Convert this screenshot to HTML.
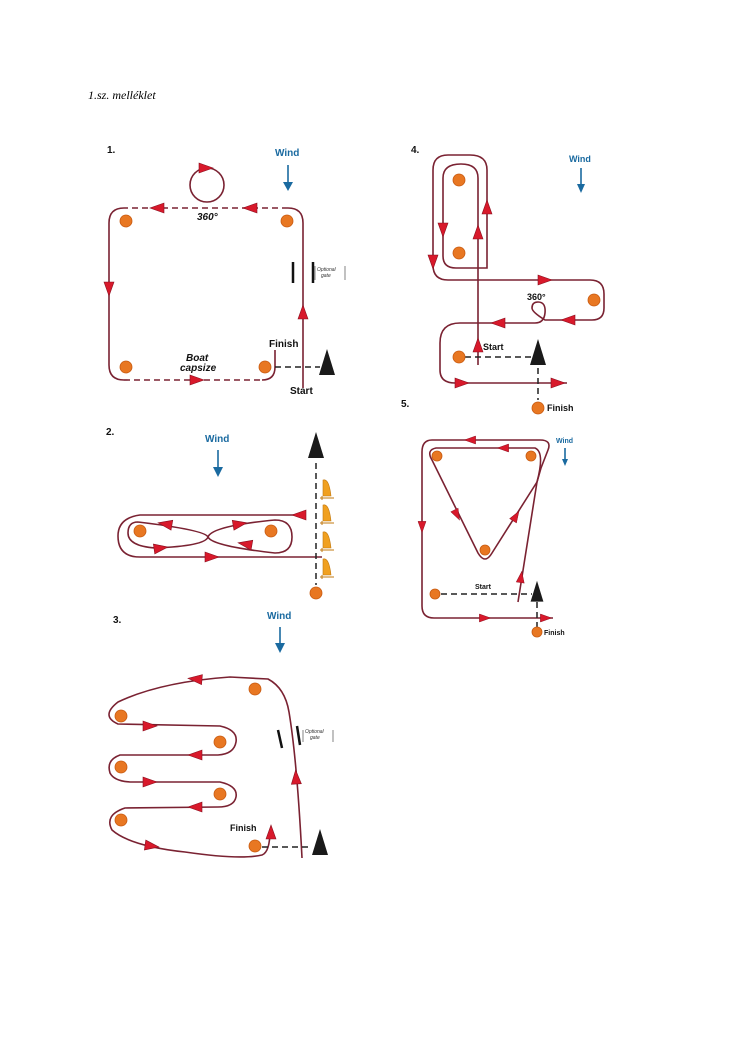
<!DOCTYPE html>
<html><head><meta charset="utf-8"><style>
html,body{margin:0;padding:0;background:#fff;width:740px;height:1047px;overflow:hidden}
svg{display:block}
text{font-family:"Liberation Sans",sans-serif}
</style></head><body>
<svg width="740" height="1047" viewBox="0 0 740 1047" xmlns="http://www.w3.org/2000/svg">
<defs>
<polygon id="a" points="-7,-5 7,0 -7,5" fill="#d8192b" stroke="#8a1020" stroke-width="0.6"/>
<polygon id="tri" points="0,-14 -8,12 8,12" fill="#1a1a1a"/>
<g id="boat"><path d="M-3,-10 Q3,-12 5,6 L-3,6 Z" fill="#f0a020" stroke="#c07810" stroke-width="0.6"/><path d="M-6,8 L8,8 M-4,6 L-4,10" stroke="#c07810" stroke-width="1"/></g>
</defs>
<text x="88" y="99" style="font-family:'Liberation Serif',serif;font-style:italic;font-size:12px">1.sz. melléklet</text>

<g fill="none" stroke="#7a2232" stroke-width="1.6">
<!-- Diagram 1 -->
<path d="M303,388 L303,223 Q303,208 288,208" />
<path d="M288,208 L124,208" stroke-dasharray="6,4"/>
<path d="M124,208 Q109,208 109,223 L109,365 Q109,380 124,380"/>
<path d="M124,380 L262,380" stroke-dasharray="6,4"/>
<path d="M262,380 Q275,380 275,367 L275,350"/>
<circle cx="207" cy="185" r="17"/>
<!-- Diagram 4 -->
<path d="M478,365 L478,178 Q478,164 461,164 Q443,164 443,178 L443,256 Q443,268 456,268 L487,268 L487,170 Q487,155 470,155 L448,155 Q433,155 433,170 L433,265 Q433,280 448,280 L590,280 Q604,280 604,294 L604,308 Q604,320 592,320 L545,320 Q532,312 532,308 Q532,302 538,302 Q546,302 545,313 Q544,323 535,323 L460,323 Q440,323 440,343 L440,370 Q440,383 455,383 L567,383"/>
<!-- Diagram 2 -->
<path d="M306,515 L140,515 Q118,518 118,536 Q118,557 140,557 L322,557"/>
<path d="M138,522 Q205,530 208,537 Q212,546 275,553 Q292,553 292,537 Q292,520 275,520 Q212,526 208,537 Q205,546 155,548 Q128,546 128,533 Q128,522 138,522"/>
<!-- Diagram 3 -->
<path d="M302,858 Q297,760 289,712 Q285,688 268,679 L230,677 Q160,682 118,702 Q100,716 118,724 L220,726 Q238,730 236,742 Q234,754 218,755 L120,755 Q106,760 110,773 Q114,781 130,782 L220,782 Q238,786 236,797 Q234,807 218,807 L125,808 Q104,815 112,830 Q130,846 185,852 Q240,860 262,855 Q270,852 270,830"/>
<!-- Diagram 5 -->
<path d="M518,602 L537,482 L541,468 L548,450 Q552,440 540,440 L432,440 Q422,440 422,452 L422,606 Q422,618 434,618 L553,618"/>
<path d="M537,482 Q545,452 535,448 L436,448 Q426,450 432,460 L478,553 Q485,565 492,553 L537,482"/>
</g>

<g stroke="#222" stroke-width="1.5" stroke-dasharray="6,4" fill="none">
<path d="M275,367 L320,367"/>
<path d="M465,357 L532,357 M538,368 L538,400"/>
<path d="M316,463 L316,585"/>
<path d="M262,847 L312,847"/>
<path d="M441,594 L532,594 M537,602 L537,627"/>
</g>

<g fill="#e87722" stroke="#c85a10" stroke-width="0.8">
<circle cx="126" cy="221" r="6"/><circle cx="287" cy="221" r="6"/><circle cx="126" cy="367" r="6"/><circle cx="265" cy="367" r="6"/>
<circle cx="459" cy="180" r="6"/><circle cx="459" cy="253" r="6"/><circle cx="594" cy="300" r="6"/><circle cx="459" cy="357" r="6"/><circle cx="538" cy="408" r="6"/>
<circle cx="140" cy="531" r="6"/><circle cx="271" cy="531" r="6"/><circle cx="316" cy="593" r="6"/>
<circle cx="255" cy="689" r="6"/><circle cx="121" cy="716" r="6"/><circle cx="220" cy="742" r="6"/><circle cx="121" cy="767" r="6"/><circle cx="220" cy="794" r="6"/><circle cx="121" cy="820" r="6"/><circle cx="255" cy="846" r="6"/>
<circle cx="437" cy="456" r="5"/><circle cx="531" cy="456" r="5"/><circle cx="485" cy="550" r="5"/><circle cx="435" cy="594" r="5"/><circle cx="537" cy="632" r="5"/>
</g>

<use href="#tri" transform="translate(327,363)"/>
<use href="#tri" transform="translate(538,353)"/>
<use href="#tri" transform="translate(316,446)"/>
<use href="#tri" transform="translate(320,843)"/>
<use href="#tri" transform="translate(537,592) scale(0.8)"/>
<use href="#boat" transform="translate(326,490)"/>
<use href="#boat" transform="translate(326,515)"/>
<use href="#boat" transform="translate(326,542)"/>
<use href="#boat" transform="translate(326,569)"/>

<use href="#a" transform="translate(206,168)"/>
<use href="#a" transform="translate(157,208) rotate(180)"/>
<use href="#a" transform="translate(250,208) rotate(180)"/>
<use href="#a" transform="translate(109,289) rotate(90)"/>
<use href="#a" transform="translate(303,312) rotate(-90)"/>
<use href="#a" transform="translate(197,380)"/>

<use href="#a" transform="translate(443,230) rotate(90)"/>
<use href="#a" transform="translate(433,262) rotate(90)"/>
<use href="#a" transform="translate(478,232) rotate(-90)"/>
<use href="#a" transform="translate(487,207) rotate(-90)"/>
<use href="#a" transform="translate(545,280)"/>
<use href="#a" transform="translate(568,320) rotate(180)"/>
<use href="#a" transform="translate(498,323) rotate(180)"/>
<use href="#a" transform="translate(478,345) rotate(-90)"/>
<use href="#a" transform="translate(462,383)"/>
<use href="#a" transform="translate(558,383)"/>

<use href="#a" transform="translate(165,524) rotate(190)"/>
<use href="#a" transform="translate(240,524) rotate(-10)"/>
<use href="#a" transform="translate(161,548) rotate(-8)"/>
<use href="#a" transform="translate(245,544) rotate(190)"/>
<use href="#a" transform="translate(212,557)"/>
<use href="#a" transform="translate(299,515) rotate(180)"/>

<use href="#a" transform="translate(195,679) rotate(185)"/>
<use href="#a" transform="translate(150,726)"/>
<use href="#a" transform="translate(195,755) rotate(180)"/>
<use href="#a" transform="translate(150,782)"/>
<use href="#a" transform="translate(195,807) rotate(180)"/>
<use href="#a" transform="translate(152,846) rotate(8)"/>
<use href="#a" transform="translate(296,777) rotate(-93)"/>
<use href="#a" transform="translate(271,832) rotate(-90)"/>

<use href="#a" transform="translate(470,440) rotate(180) scale(0.8)"/>
<use href="#a" transform="translate(503,448) rotate(180) scale(0.8)"/>
<use href="#a" transform="translate(422,527) rotate(90) scale(0.8)"/>
<use href="#a" transform="translate(457,515) rotate(63) scale(0.8)"/>
<use href="#a" transform="translate(516,516) rotate(-58) scale(0.8)"/>
<use href="#a" transform="translate(521,577) rotate(-82) scale(0.8)"/>
<use href="#a" transform="translate(485,618) scale(0.8)"/>
<use href="#a" transform="translate(546,618) scale(0.8)"/>

<g stroke="#1a6aa0" stroke-width="1.6" fill="#1a6aa0">
<path d="M288,165 L288,185"/><polygon points="283,182 293,182 288,191" stroke="none"/>
<path d="M581,168 L581,187"/><polygon points="577,184 585,184 581,193" stroke="none"/>
<path d="M218,450 L218,470"/><polygon points="213,467 223,467 218,477" stroke="none"/>
<path d="M280,627 L280,646"/><polygon points="275,643 285,643 280,653" stroke="none"/>
<path d="M565,448 L565,461"/><polygon points="562,459 568,459 565,466" stroke="none"/>
</g>
<g fill="#1a6aa0" font-weight="bold">
<text x="275" y="156" font-size="10">Wind</text>
<text x="569" y="162" font-size="9">Wind</text>
<text x="205" y="442" font-size="10">Wind</text>
<text x="267" y="619" font-size="10">Wind</text>
<text x="556" y="443" font-size="7">Wind</text>
</g>

<g stroke="#111" stroke-width="2.5">
<path d="M293,262 L293,283 M313,262 L313,283"/>
<path d="M278,730 L282,748 M297,726 L300,745"/>
</g>
<g font-size="5" font-style="italic" fill="#333">
<text x="317" y="271">Optional</text><text x="321" y="277">gate</text>
<text x="305" y="733">Optional</text><text x="310" y="739">gate</text>
</g>
<g stroke="#333" stroke-width="0.6" fill="none">
<path d="M315,266 L315,280 M345,266 L345,280"/>
<path d="M303,730 L303,742 M333,730 L333,742"/>
</g>

<g font-size="10" font-weight="bold" fill="#111">
<text x="107" y="153">1.</text>
<text x="411" y="153">4.</text>
<text x="401" y="407">5.</text>
<text x="106" y="435">2.</text>
<text x="113" y="623">3.</text>
<text x="197" y="220" font-style="italic">360°</text>
<text x="186" y="361" font-style="italic">Boat</text>
<text x="180" y="371" font-style="italic">capsize</text>
<text x="269" y="347">Finish</text>
<text x="290" y="394">Start</text>
<text x="527" y="300" font-size="9">360°</text>
<text x="483" y="350" font-size="9">Start</text>
<text x="547" y="411" font-size="9">Finish</text>
<text x="230" y="831" font-size="9">Finish</text>
<text x="475" y="589" font-size="7">Start</text>
<text x="544" y="635" font-size="7">Finish</text>
</g>
</svg>
</body></html>
